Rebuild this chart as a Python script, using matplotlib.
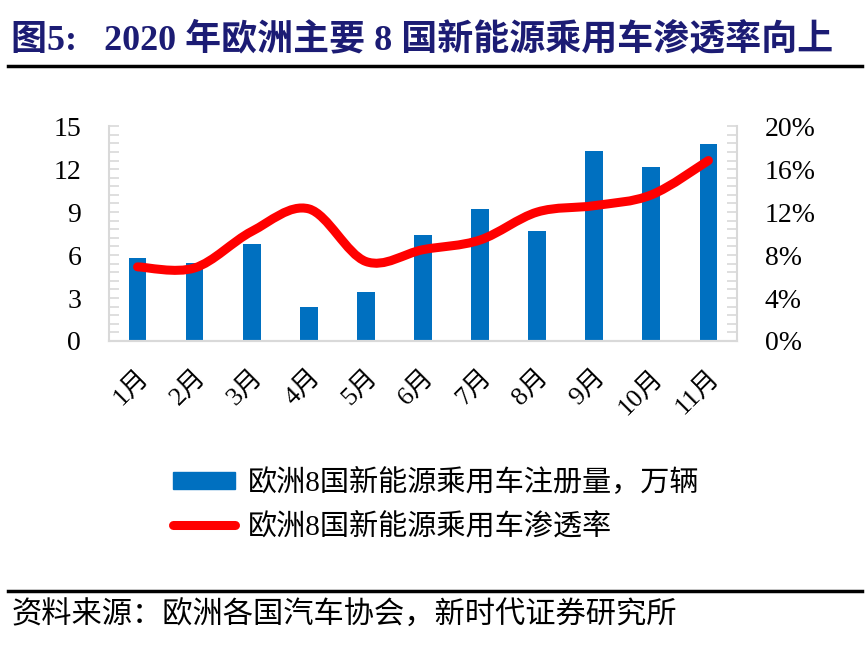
import numpy as np
import matplotlib
matplotlib.use('Agg')
import matplotlib.pyplot as plt
from matplotlib.path import Path
from matplotlib.patches import PathPatch
from matplotlib.lines import Line2D
from matplotlib.ticker import MultipleLocator, FuncFormatter

plt.rcParams['font.family'] = ['Liberation Serif', 'Noto Sans CJK SC']

months = ['1月', '2月', '3月', '4月', '5月', '6月', '7月', '8月', '9月', '10月', '11月']
registrations = [5.79, 5.46, 6.77, 2.37, 3.42, 7.42, 9.19, 7.70, 13.24, 12.14, 13.72]  # 万辆
penetration = [6.9, 6.8, 10.2, 12.3, 7.4, 8.5, 9.4, 12.0, 12.6, 13.6, 16.8]  # %

title = '图5:   2020 年欧洲主要 8 国新能源乘用车渗透率向上'
source = '资料来源：欧洲各国汽车协会，新时代证券研究所'
bar_label = '欧洲8国新能源乘用车注册量，万辆'
line_label = '欧洲8国新能源乘用车渗透率'

bar_color = '#0070C0'
line_color = '#FF0000'
grey = '#D9D9D9'


def smooth_path(xs, ys):
    # excel-like smoothed line: catmull-rom as cubic bezier segments
    pts = np.column_stack([xs, ys]).astype(float)
    n = len(pts)
    verts = [pts[0]]
    codes = [Path.MOVETO]
    for i in range(n - 1):
        p0 = pts[max(i - 1, 0)]
        p1 = pts[i]
        p2 = pts[i + 1]
        p3 = pts[min(i + 2, n - 1)]
        c1 = p1 + (p2 - p0) / 6.0
        c2 = p2 - (p3 - p1) / 6.0
        verts += [c1, c2, p2]
        codes += [Path.CURVE4] * 3
    return Path(verts, codes)


fig = plt.figure(figsize=(8.67, 6.47), dpi=100)
ax1 = fig.add_axes([0.1257, 0.473, 0.7243, 0.332])
ax2 = ax1.twinx()

x = np.arange(len(months))
ax1.bar(x, registrations, width=0.31, color=bar_color, zorder=2)
ax1.set_xlim(-0.5, len(months) - 0.5)
ax1.set_ylim(0, 15)
ax1.yaxis.set_major_locator(MultipleLocator(3))
ax1.yaxis.set_minor_locator(MultipleLocator(0.6))

ax2.add_patch(PathPatch(smooth_path(x, penetration), fill=False, edgecolor=line_color,
                        lw=6.5, capstyle='round', joinstyle='round', zorder=3))
ax2.set_ylim(0, 20)
ax2.yaxis.set_major_locator(MultipleLocator(4))
ax2.yaxis.set_minor_locator(MultipleLocator(0.8))
ax2.yaxis.set_major_formatter(FuncFormatter(lambda v, p: '%d%%' % v))

for ax in (ax1, ax2):
    for s in ax.spines.values():
        s.set_color(grey)
        s.set_linewidth(1.5)
    ax.spines['top'].set_visible(False)
    ax.tick_params(axis='y', which='both', direction='in', color=grey, width=1.2,
                   length=7, labelsize=20, pad=20)
ax2.spines['left'].set_visible(False)
ax1.spines['right'].set_visible(False)

ax1.set_xticks(x)
ax1.set_xticklabels(months, rotation=45, ha='right', rotation_mode='anchor', fontsize=19)
ax1.tick_params(axis='x', length=0, pad=18)

handles = [plt.Rectangle((0, 0), 1, 1, color=bar_color),
           Line2D([0], [0], color=line_color, lw=6.5, solid_capstyle='round')]
fig.legend(handles, [bar_label, line_label], loc='upper left',
           bbox_to_anchor=(0.19, 0.289), frameon=False, fontsize=21,
           handlelength=2.1, handleheight=0.55, handletextpad=0.45, labelspacing=0.55,
           borderaxespad=0, borderpad=0.3)

fig.text(0.013, 0.938, title, fontsize=25.9, fontweight='bold', color='#1c1c74',
         va='center', ha='left')
fig.add_artist(Line2D([0.009, 0.994], [0.898, 0.898], color='black', lw=2.5))
fig.add_artist(Line2D([0.009, 0.994], [0.087, 0.087], color='black', lw=2.5))
fig.text(0.013, 0.049, source, fontsize=21.8, va='center', ha='left')

fig.savefig('out.png', dpi=100)
